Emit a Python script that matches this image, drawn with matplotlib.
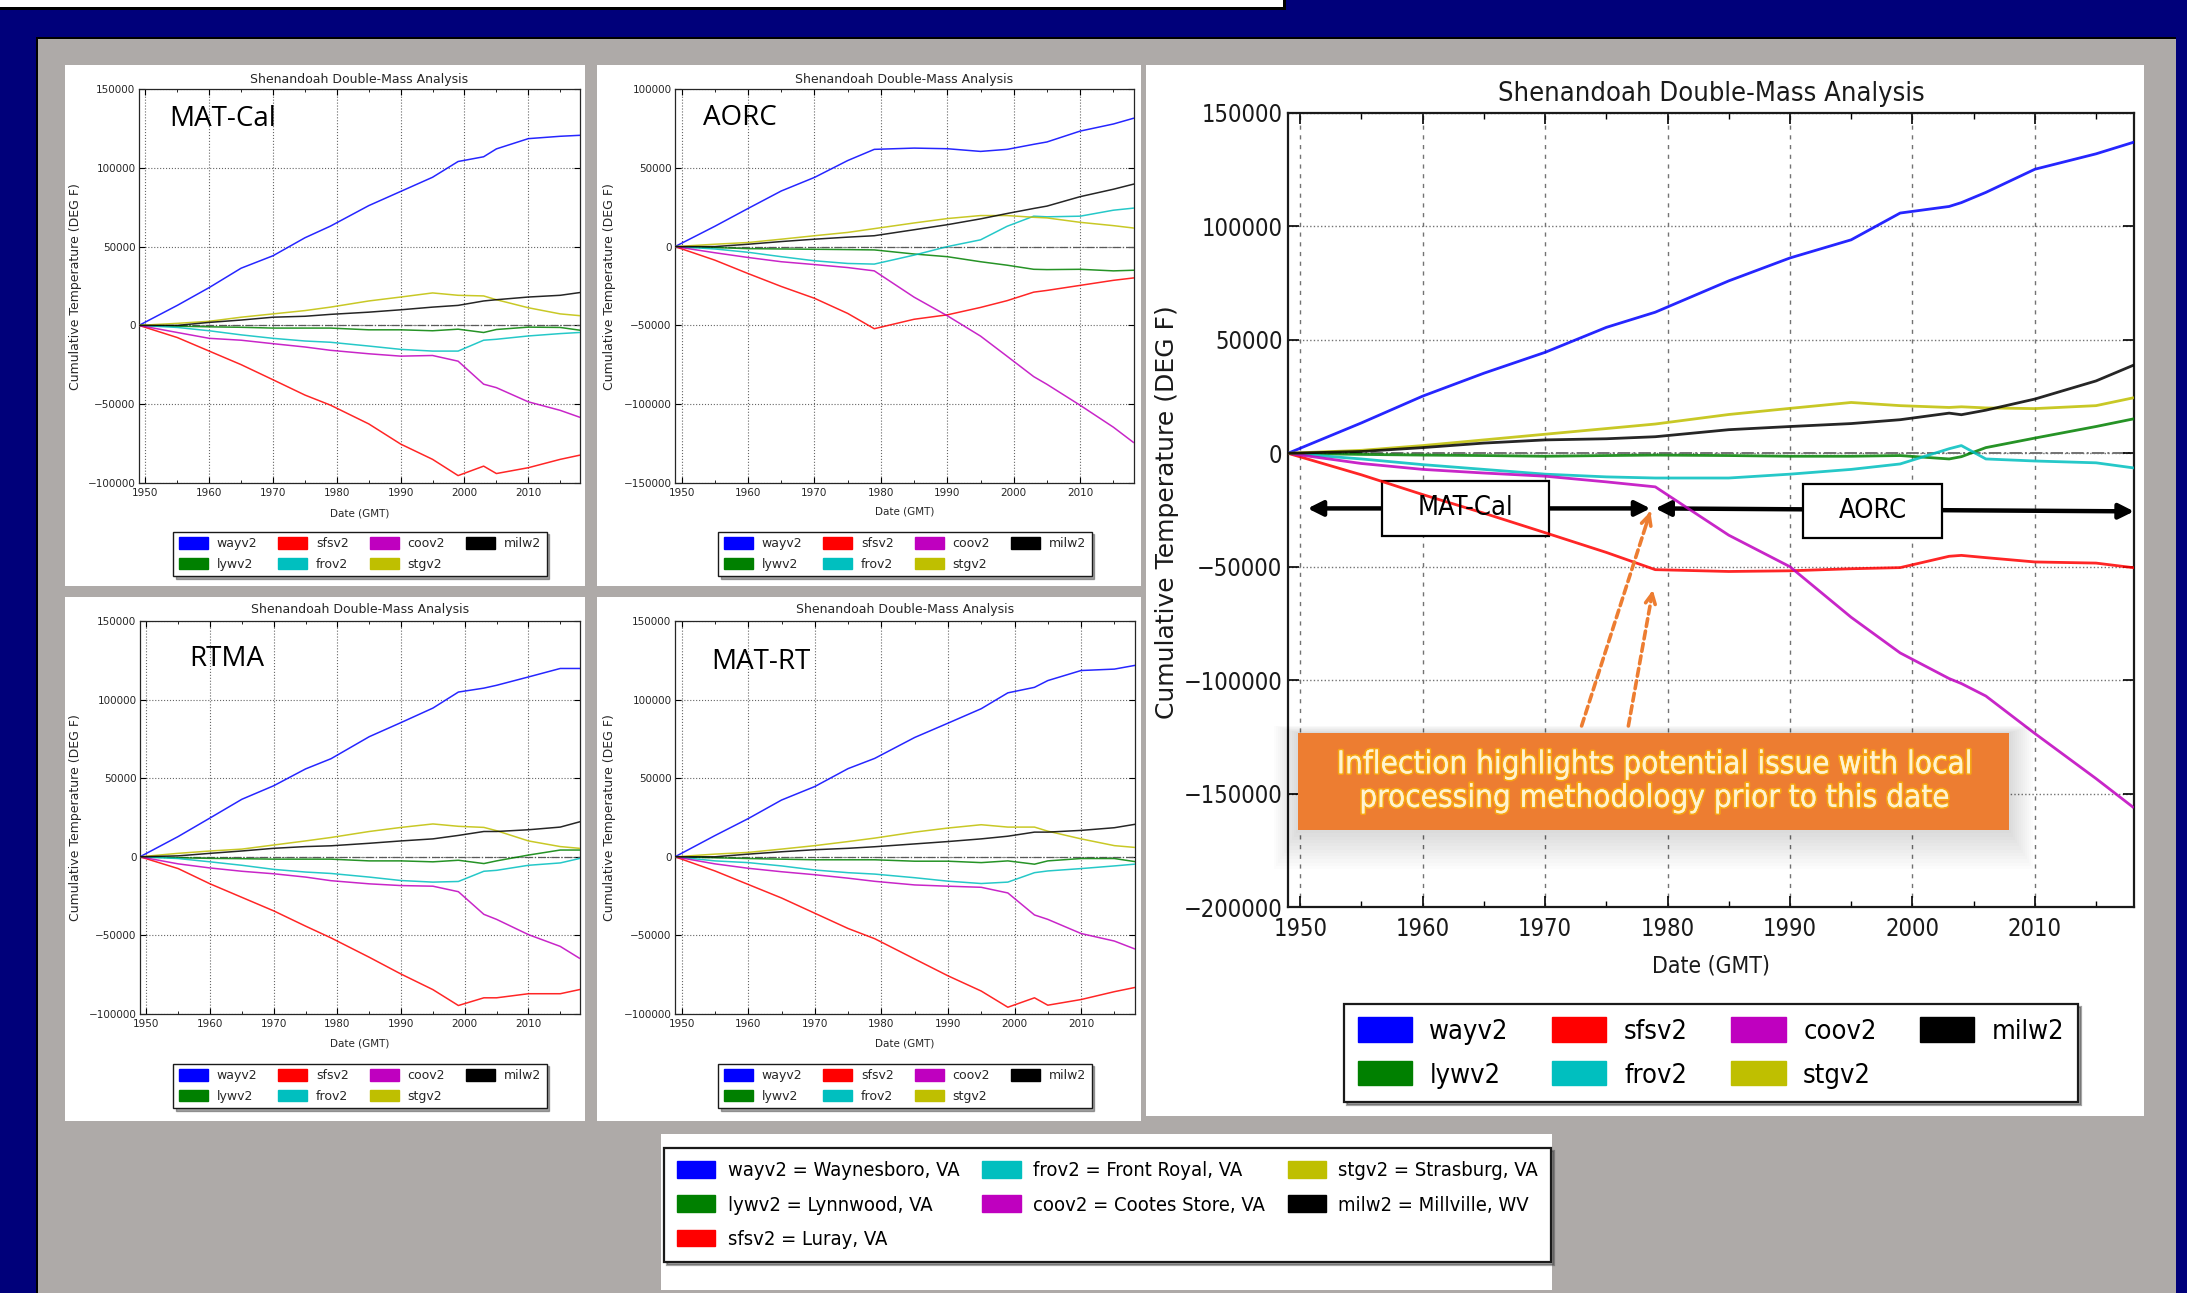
import os
import numpy as np
import matplotlib
matplotlib.use('Agg')
import matplotlib.pyplot as plt
from matplotlib import font_manager as fm
from matplotlib.patches import Rectangle, Patch
from matplotlib.ticker import FixedLocator
import matplotlib.patheffects as pe

plt.rcParams['font.family'] = ['DejaVu Sans']
plt.rcParams['axes.unicode_minus'] = True

# ---------------------------------------------------------------- data
STATIONS = ['wayv2', 'lywv2', 'sfsv2', 'frov2', 'coov2', 'stgv2', 'milw2']
STATION_COLORS = ['#0000FF', '#008000', '#FF0000', '#00BFBF', '#BF00BF', '#BFBF00', '#000000']
STATION_NAMES = ['Waynesboro, VA', 'Lynnwood, VA', 'Luray, VA', 'Front Royal, VA',
                 'Cootes Store, VA', 'Strasburg, VA', 'Millville, WV']

YEARS_SMALL = [1949, 1955, 1960, 1965, 1970, 1975, 1979, 1985, 1990, 1995, 1999, 2003, 2005, 2010, 2015, 2018]

# MAT-Cal
MATCAL_WAYV2 = [0, 12700, 24000, 36300, 44200, 55600, 63000, 76000, 85000, 94000, 104000, 107000, 112000, 118500, 120000, 120600]
MATCAL_LYWV2 = [0, -500, -900, -1200, -1700, -1700, -1700, -2800, -2800, -3400, -2400, -4500, -2600, -1100, -1300, -3000]
MATCAL_SFSV2 = [0, -7700, -16300, -24900, -34500, -44200, -50600, -62500, -75300, -85000, -95300, -89300, -94000, -90300, -85000, -82400]
MATCAL_FROV2 = [0, -1300, -3400, -6000, -8200, -9900, -10700, -13100, -15200, -16300, -16300, -9400, -8800, -6700, -5200, -4500]
MATCAL_COOV2 = [0, -4500, -8200, -9400, -11600, -13700, -15800, -18000, -19500, -19100, -22700, -37300, -39500, -48500, -53900, -58200]
MATCAL_STGV2 = [0, 1300, 2600, 5200, 7300, 9400, 11600, 15500, 18000, 20600, 19100, 18700, 16300, 11200, 7300, 6200]
MATCAL_MILW2 = [0, 0, 1900, 3400, 5200, 5800, 7000, 8400, 9900, 11600, 12700, 15500, 16300, 18000, 19100, 20800]

# AORC
AORC_WAYV2 = [0, 12900, 24200, 35300, 43900, 54600, 61700, 62500, 62100, 60400, 61700, 64900, 66400, 73300, 77800, 81400]
AORC_LYWV2 = [0, -600, -1300, -1500, -1700, -1900, -2100, -4700, -6400, -9600, -11800, -14400, -14600, -14400, -15400, -15000]
AORC_SFSV2 = [0, -8600, -17100, -25300, -32800, -42400, -52100, -46100, -43300, -38600, -34300, -28900, -27800, -24600, -21400, -19900]
AORC_FROV2 = [0, -1500, -3600, -6400, -9000, -10700, -11100, -5400, 0, 4300, 12900, 19300, 18900, 19300, 23100, 24400]
AORC_COOV2 = [0, -3900, -6900, -9600, -11400, -13300, -15400, -32100, -43900, -56800, -69600, -82500, -87400, -100700, -114600, -124200]
AORC_STGV2 = [0, 1500, 2600, 4700, 6900, 9000, 11400, 15000, 17800, 19700, 19700, 18600, 18200, 15400, 13300, 11800]
AORC_MILW2 = [0, 0, 1500, 3200, 4700, 6000, 6900, 10700, 13900, 17600, 21000, 24200, 25700, 31700, 36400, 39600]

# RTMA
RTMA_WAYV2 = [0, 12900, 24700, 36600, 45200, 55900, 62400, 76400, 85400, 94600, 104800, 107300, 109100, 114400, 119800, 119800]
RTMA_LYWV2 = [0, -600, -1000, -1200, -1500, -1500, -1500, -2600, -2600, -3200, -2200, -4300, -2600, 1100, 4300, 4300]
RTMA_SFSV2 = [0, -7500, -17200, -25800, -34400, -44100, -51600, -63900, -74600, -84500, -94600, -89700, -89700, -87100, -87100, -84500]
RTMA_FROV2 = [0, -1100, -3200, -5400, -8000, -9700, -10600, -12900, -15100, -16100, -15700, -9200, -8600, -5400, -3900, -1100]
RTMA_COOV2 = [0, -4500, -7100, -9200, -10800, -12900, -15200, -17200, -18300, -18700, -22200, -36600, -39800, -49500, -57000, -64500]
RTMA_STGV2 = [0, 2200, 3700, 4900, 7500, 10100, 12300, 16100, 18700, 20900, 19400, 18700, 16600, 10100, 6500, 5400]
RTMA_MILW2 = [0, 600, 2200, 3700, 5400, 6500, 7000, 8600, 10100, 11400, 13600, 16100, 16100, 17200, 18900, 22200]

# MAT-RT
MATRT_WAYV2 = [0, 13500, 24300, 36100, 44700, 56100, 62600, 75900, 85000, 94200, 104300, 107800, 112100, 118500, 119400, 121700]
MATRT_LYWV2 = [0, -600, -1100, -1500, -1900, -1900, -1900, -2800, -2800, -3700, -2600, -4700, -2600, -1100, -1100, -3000]
MATRT_SFSV2 = [0, -9000, -17600, -26200, -35900, -45600, -52100, -65000, -75700, -85400, -95700, -89700, -94400, -90800, -85800, -83200]
MATRT_FROV2 = [0, -2600, -3700, -5800, -8400, -10100, -11000, -13300, -15500, -17000, -16100, -10100, -9000, -7500, -5800, -4700]
MATRT_COOV2 = [0, -4500, -7300, -9500, -11400, -13600, -15600, -17900, -18700, -19400, -23000, -37000, -39800, -48800, -53600, -58500]
MATRT_STGV2 = [0, 1700, 2800, 4900, 7100, 9700, 11900, 15700, 18300, 20400, 18900, 18900, 16300, 11400, 7100, 6000]
MATRT_MILW2 = [0, 0, 1700, 3200, 4500, 5400, 6400, 8200, 9700, 11400, 13100, 15700, 15700, 16800, 18500, 20600]

# Large combined chart (MAT-Cal before 1979, AORC after)
YEARS_BIG = [1949, 1955, 1960, 1965, 1970, 1975, 1979, 1985, 1990, 1995, 1999, 2003, 2004, 2006, 2010, 2015, 2018]
BIG_WAYV2 = [0, 13400, 25200, 35300, 44500, 55500, 62200, 76000, 86100, 94100, 105900, 108800, 110500, 115000, 125200, 132000, 137000]
BIG_LYWV2 = [0, -500, -800, -1000, -1300, -1000, -800, -1000, -1300, -1300, -1000, -2500, -1500, 2500, 6700, 11800, 15100]
BIG_SFSV2 = [0, -9500, -18200, -26400, -35000, -43700, -51300, -52100, -51800, -50900, -50400, -45400, -45000, -46000, -47900, -48400, -50400]
BIG_FROV2 = [0, -2500, -5000, -7100, -9200, -10400, -10900, -10900, -9200, -7100, -4700, 2000, 3400, -2500, -3400, -4200, -6400]
BIG_COOV2 = [0, -4500, -7100, -8700, -10100, -12600, -14800, -36100, -50000, -72300, -88000, -99300, -101500, -107000, -123500, -143400, -155900]
BIG_STGV2 = [0, 1300, 3400, 5900, 8400, 10900, 12900, 17100, 19800, 22400, 21000, 20200, 20500, 20000, 19700, 21000, 24400]
BIG_MILW2 = [0, 800, 2500, 4500, 5900, 6400, 7300, 10400, 11800, 13100, 14800, 17700, 17000, 19000, 23900, 31900, 38700]

DECADES = [1950, 1960, 1970, 1980, 1990, 2000, 2010]
HALF_DECADES = [1955, 1965, 1975, 1985, 1995, 2005, 2015]
XLIM = (1949.0, 2018.1)

TITLE = 'Shenandoah Double-Mass Analysis'
YLABEL = 'Cumulative Temperature (DEG F)'
XLABEL = 'Date (GMT)'
NOTE = 'Inflection highlights potential issue with local\nprocessing methodology prior to this date'

# ---------------------------------------------------------------- styling helpers
W, H = 2187, 1293
NAVY = '#00007A'
PANEL_GRAY = '#AEAAA8'
ORANGE = '#ED7D31'


def _find_condensed():
    names = {}
    for f in fm.fontManager.ttflist:
        names.setdefault(os.path.basename(f.fname), f.fname)
    for pref in ['DejaVuSansCondensed.ttf', 'LiberationSansNarrow-Regular.ttf',
                 'RobotoCondensed-Regular.ttf', 'NotoSans-Condensed.ttf']:
        if pref in names:
            return names[pref]
    for base, path in names.items():
        b = base.lower()
        if ('condensed' in b or 'narrow' in b) and not any(
                k in b for k in ('bold', 'italic', 'oblique', 'light', 'semi', 'black', 'thin', 'medium', 'extra')):
            return path
    return None


COND_FILE = _find_condensed()


def cond(size):
    if COND_FILE:
        return fm.FontProperties(fname=COND_FILE, size=size)
    return fm.FontProperties(family='DejaVu Sans', size=size * 0.88)


fig = plt.figure(figsize=(W / 100, H / 100), dpi=100, facecolor=NAVY)


def add_fig_rect(x0, y0, x1, y1, **kw):
    r = Rectangle((x0 / W, 1 - y1 / H), (x1 - x0) / W, (y1 - y0) / H,
                  transform=fig.transFigure, zorder=-5, **kw)
    fig.patches.append(r)
    return r


def add_axes_px(x0, y0, x1, y1):
    return fig.add_axes([x0 / W, 1 - y1 / H, (x1 - x0) / W, (y1 - y0) / H])


def fig_text(x, y, s, **kw):
    return fig.text(x / W, 1 - y / H, s, **kw)


def ytick_labels(vals):
    return [('%d' % v).replace('-', '\u2212') for v in vals]


# ---------------------------------------------------------------- slide background
add_fig_rect(0, 0, 1283, 7, facecolor='white', edgecolor='none')
add_fig_rect(0, 7, 1286, 10, facecolor='black', edgecolor='none')
add_fig_rect(1283, 0, 1286, 10, facecolor='black', edgecolor='none')
add_fig_rect(36, 37, 2176, 1293, facecolor='black', edgecolor='none')
add_fig_rect(38, 39, 2176, 1293, facecolor=PANEL_GRAY, edgecolor='none')

# white cards
add_fig_rect(65, 65, 585, 586, facecolor='white', edgecolor='none')
add_fig_rect(597, 65, 1141, 586, facecolor='white', edgecolor='none')
add_fig_rect(65, 597, 585, 1121, facecolor='white', edgecolor='none')
add_fig_rect(597, 597, 1141, 1121, facecolor='white', edgecolor='none')
add_fig_rect(1146, 65, 2144, 1116, facecolor='white', edgecolor='none')
add_fig_rect(661, 1134, 1552, 1290, facecolor='white', edgecolor='none')


def patch_handles():
    return [Patch(facecolor=c, edgecolor=c) for c in STATION_COLORS]


# ---------------------------------------------------------------- small panels
def small_panel(box, series, ylim, label, label_xy, title_y, ylabel_x, ylabel_y, xlabel_y, legend_c):
    x0, y0, x1, y1 = box
    ax = add_axes_px(x0, y0, x1, y1)
    for name, color, vals in zip(STATIONS, STATION_COLORS, series):
        ax.plot(YEARS_SMALL, vals, color=color, lw=1.1, alpha=0.85, zorder=3)
    ax.axhline(0, color='0.35', ls='-.', lw=0.9, zorder=2)
    ax.set_xlim(*XLIM)
    ax.set_ylim(*ylim)
    yt = list(range(ylim[0], ylim[1] + 1, 50000))
    ax.set_yticks(yt, ytick_labels(yt), fontsize=7.5, color='0.15')
    ax.set_xticks(DECADES, [str(d) for d in DECADES], fontsize=7.5, color='0.15')
    ax.xaxis.set_minor_locator(FixedLocator(HALF_DECADES))
    ax.tick_params(which='both', direction='in', top=True, right=True)
    ax.tick_params(which='major', length=4, width=0.8)
    ax.tick_params(which='minor', length=2, width=0.6)
    ax.tick_params(axis='y', pad=2.5)
    ax.tick_params(axis='x', pad=3.5)
    ax.grid(True, which='major', ls=':', color='0.4', lw=0.8)
    for s in ax.spines.values():
        s.set_linewidth(0.9)
        s.set_color('0.15')
    cx = (x0 + x1) / 2
    fig_text(cx, title_y, TITLE, ha='center', va='center', fontsize=9, color='0.15')
    fig_text(ylabel_x, ylabel_y, YLABEL, ha='center', va='center', rotation=90, fontsize=9, color='0.15')
    fig_text(cx, xlabel_y, XLABEL, ha='center', va='center', fontsize=7.5, color='0.15')
    fig_text(label_xy[0], label_xy[1], label, ha='left', va='center', fontsize=20,
             family=['Open Sans', 'DejaVu Sans'], color='black')
    leg = ax.legend(patch_handles(), STATIONS, ncol=4, loc='center',
                    bbox_to_anchor=(legend_c[0] / W, 1 - legend_c[1] / H),
                    bbox_transform=fig.transFigure, fontsize=9, handlelength=2.3, handleheight=1.0,
                    handletextpad=0.7, columnspacing=1.7, labelspacing=0.6, borderpad=0.45,
                    fancybox=False, shadow=True, framealpha=1)
    leg.get_frame().set_edgecolor('0.1')
    leg.get_frame().set_linewidth(1.0)
    for t in leg.get_texts():
        t.set_color('0.15')
    return ax


small_panel((139, 89, 580, 483),
            [MATCAL_WAYV2, MATCAL_LYWV2, MATCAL_SFSV2, MATCAL_FROV2, MATCAL_COOV2, MATCAL_STGV2, MATCAL_MILW2],
            (-100000, 150000), 'MAT-Cal', (169, 119), 79, 76, 287, 513, (360, 554))
small_panel((675, 89, 1134, 483),
            [AORC_WAYV2, AORC_LYWV2, AORC_SFSV2, AORC_FROV2, AORC_COOV2, AORC_STGV2, AORC_MILW2],
            (-150000, 100000), 'AORC', (703, 118), 79, 609, 287, 512, (905, 554))
small_panel((140, 621, 580, 1014),
            [RTMA_WAYV2, RTMA_LYWV2, RTMA_SFSV2, RTMA_FROV2, RTMA_COOV2, RTMA_STGV2, RTMA_MILW2],
            (-100000, 150000), 'RTMA', (189, 659), 610, 76, 818, 1044, (360, 1086))
small_panel((675, 621, 1135, 1014),
            [MATRT_WAYV2, MATRT_LYWV2, MATRT_SFSV2, MATRT_FROV2, MATRT_COOV2, MATRT_STGV2, MATRT_MILW2],
            (-100000, 150000), 'MAT-RT', (711, 662), 610, 609, 818, 1044, (905, 1086))

# ---------------------------------------------------------------- big panel
bx0, by0, bx1, by1 = 1288, 113, 2134, 907
axb = add_axes_px(bx0, by0, bx1, by1)
for name, color, vals in zip(STATIONS, STATION_COLORS,
                             [BIG_WAYV2, BIG_LYWV2, BIG_SFSV2, BIG_FROV2, BIG_COOV2, BIG_STGV2, BIG_MILW2]):
    axb.plot(YEARS_BIG, vals, color=color, lw=2.0, alpha=0.85, zorder=3)
axb.axhline(0, color='0.45', ls='-.', lw=1.4, zorder=1.5)
axb.set_xlim(*XLIM)
axb.set_ylim(-200000, 150000)
ybt = list(range(-200000, 150001, 50000))
axb.set_yticks(ybt, ytick_labels(ybt), fontproperties=cond(17), color='0.1')
axb.set_xticks(DECADES, [str(d) for d in DECADES], fontproperties=cond(17), color='0.1')
axb.xaxis.set_minor_locator(FixedLocator(HALF_DECADES))
axb.tick_params(which='both', direction='in', top=True, right=True)
axb.tick_params(which='major', length=8, width=1.2)
axb.tick_params(which='minor', length=4, width=1.0)
axb.tick_params(axis='y', pad=4)
axb.tick_params(axis='x', pad=7)
axb.xaxis.grid(True, which='major', ls=(0, (3, 4)), color='0.45', lw=1.0)
axb.yaxis.grid(True, which='major', ls=(0, (1, 1.6)), color='0.45', lw=1.0)
for s in axb.spines.values():
    s.set_linewidth(1.6)
    s.set_color('0.1')

fig_text((bx0 + bx1) / 2, 94, TITLE, ha='center', va='center', fontproperties=cond(19.5), color='0.1')
fig_text(1167, 512, YLABEL, ha='center', va='center', rotation=90, fontsize=18, color='0.1')
fig_text((bx0 + bx1) / 2, 966, XLABEL, ha='center', va='center', fontproperties=cond(16.5), color='0.1')

legb = axb.legend(patch_handles(), STATIONS, ncol=4, loc='center',
                  bbox_to_anchor=(1711 / W, 1 - 1053 / H), bbox_transform=fig.transFigure,
                  prop=cond(19.5), handlelength=2.0, handleheight=1.0, handletextpad=0.65,
                  columnspacing=1.6, labelspacing=0.6, borderpad=0.5,
                  fancybox=False, shadow=True, framealpha=1)
legb.get_frame().set_edgecolor('0.1')
legb.get_frame().set_linewidth(1.6)

# period annotations (arrows under the label boxes, station lines above them)
arrow_y = -24300
axb.annotate('', xy=(1950.6, arrow_y), xytext=(1978.6, arrow_y),
             arrowprops=dict(arrowstyle='<|-|>,head_length=0.9,head_width=0.45', lw=3.2, color='black',
                             shrinkA=0, shrinkB=0), zorder=2)
axb.annotate('', xy=(1979.0, arrow_y), xytext=(2018.1, arrow_y - 1300),
             arrowprops=dict(arrowstyle='<|-|>,head_length=0.9,head_width=0.45', lw=3.2, color='black',
                             shrinkA=0, shrinkB=0), zorder=2, annotation_clip=False)
axb.add_patch(Rectangle((1956.7, -36500), 13.6, 24300, facecolor='white', edgecolor='black', lw=1.6, zorder=2.5))
axb.text(1963.5, -24300, 'MAT-Cal', ha='center', va='center', fontproperties=cond(19.5), color='black', zorder=4)
axb.add_patch(Rectangle((1991.1, -37300), 11.3, 23800, facecolor='white', edgecolor='black', lw=1.6, zorder=2.5))
axb.text(1996.75, -25400, 'AORC', ha='center', va='center', fontproperties=cond(19.5), color='black', zorder=4)

# orange note box with soft shadow
nx0, nx1, ny0, ny1 = 1949.8, 2007.9, -166100, -123300
for i in range(1, 13):
    dx = 0.16 * i
    dy = 900 * i
    axb.add_patch(Rectangle((nx0 - dx, ny0 - dy * 1.6), (nx1 - nx0) + 2 * dx, (ny1 - ny0) + dy * 1.9,
                            facecolor='black', edgecolor='none', alpha=0.012, zorder=8, clip_on=False))
axb.add_patch(Rectangle((nx0, ny0), nx1 - nx0, ny1 - ny0, facecolor=ORANGE, edgecolor='none',
                        zorder=9, clip_on=False))
axb.text((nx0 + nx1) / 2, (ny0 + ny1) / 2, NOTE, ha='center', va='center', multialignment='center',
         fontproperties=cond(22.5), color='#FFF3D0', zorder=10, linespacing=1.2,
         path_effects=[pe.withStroke(linewidth=2.5, foreground='#FFC000', alpha=0.6), pe.Normal()])

# dashed orange pointer arrows
for tail, tip in [((1972.98, -120200), (1978.6, -25700)), ((1976.8, -120200), (1978.8, -60300))]:
    axb.annotate('', xy=tip, xytext=tail,
                 arrowprops=dict(arrowstyle='-', ls=(0, (2.2, 1.3)), lw=2.6, color=ORANGE,
                                 shrinkA=0, shrinkB=1), zorder=9)
    near = (tip[0] + 0.06 * (tail[0] - tip[0]), tip[1] + 0.06 * (tail[1] - tip[1]))
    axb.annotate('', xy=tip, xytext=near,
                 arrowprops=dict(arrowstyle='->,head_length=0.7,head_width=0.35', lw=2.6, color=ORANGE,
                                 shrinkA=0, shrinkB=0), zorder=9)

# ---------------------------------------------------------------- station key at the bottom
key_labels = ['%s = %s' % (s, n) for s, n in zip(STATIONS, STATION_NAMES)]
legk = fig.legend(patch_handles(), key_labels, ncol=3, loc='center',
                  bbox_to_anchor=(1107.5 / W, 1 - 1205 / H), prop=cond(14.5),
                  handlelength=1.9, handleheight=0.9, handletextpad=0.6, columnspacing=1.15,
                  labelspacing=0.75, borderpad=0.65, fancybox=False, shadow=True, framealpha=1)
legk.get_frame().set_edgecolor('0.1')
legk.get_frame().set_linewidth(1.6)

fig.savefig('out.png', dpi=100, facecolor=NAVY)
